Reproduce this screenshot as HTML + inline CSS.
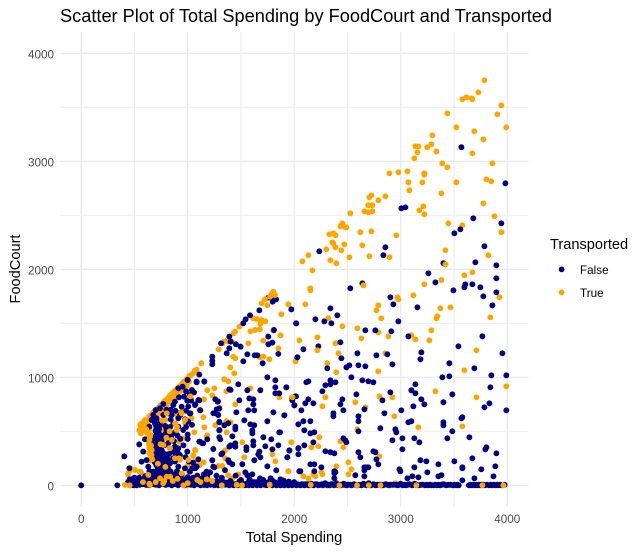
<!DOCTYPE html>
<html>
<head>
<meta charset="utf-8">
<style>
html,body{margin:0;padding:0;background:#fff;}
svg{display:block;}
text{font-family:"Liberation Sans",Arial,sans-serif;}
</style>
</head>
<body>
<svg id="chart" width="644" height="552" viewBox="0 0 644 552" xmlns="http://www.w3.org/2000/svg">
<rect x="0" y="0" width="644" height="552" fill="#ffffff"/>
<g id="grid"></g>
<g id="marks"></g>
<g id="xticks"></g>
<g id="yticks"></g>
<text x="60" y="22" font-size="18.2" fill="#000000">Scatter Plot of Total Spending by FoodCourt and Transported</text>
<text x="294" y="542" font-size="14.6" fill="#000000" text-anchor="middle">Total Spending</text>
<text transform="translate(20,269) rotate(-90)" font-size="14.6" fill="#000000" text-anchor="middle">FoodCourt</text>
<g>
<text x="550" y="249" font-size="14.6" fill="#000000">Transported</text>
<circle cx="561.6" cy="269.4" r="2.9" fill="#000080"/>
<text x="580" y="274" font-size="11.7" fill="#000000">False</text>
<circle cx="561.6" cy="292.4" r="2.9" fill="#FFA500"/>
<text x="580" y="297" font-size="11.7" fill="#000000">True</text>
</g>
</svg>
<script>
const xTickValues=[0,1000,2000,3000,4000];
const yTickValues=[0,1000,2000,3000,4000];
const xMinorValues=[500,1500,2500,3500];
const yMinorValues=[500,1500,2500,3500];

const truePoints=[[3786,3750],[3729,3639],[3579,3574],[3617,3592],[3664,3583],[3673,3574],[3945,3518],[3438,3444],[3908,3435],[3523,3315],[3992,3315],[3692,3278],[3297,3241],[3776,3204],[3288,3157],[3138,3139],[3166,3139],[3250,3130],[3157,3083],[3335,3092],[3673,3074],[3128,3028],[3391,2981],[3438,2944],[3861,2981],[2894,2889],[2978,2898],[3063,2907],[3222,2889],[3222,2876],[3072,2805],[3204,2805],[3523,2805],[3804,2833],[3851,2815],[3081,2731],[3382,2704],[2706,2667],[2725,2685],[2856,2676],[2790,2639],[2696,2593],[2734,2593],[3213,2583],[3776,2611],[2659,2537],[2696,2528],[2734,2537],[3175,2546],[3222,2509],[2527,2518],[3880,2491],[2452,2426],[2434,2398],[2480,2389],[2490,2389],[3448,2426],[3579,2407],[3945,2343],[2621,2343],[2725,2352],[2330,2324],[2368,2333],[2387,2315],[2959,2315],[2358,2250],[2368,2241],[2471,2231],[2640,2222],[2387,2204],[2302,2185],[2443,2176],[3420,2176],[2133,2130],[2518,2111],[2706,2120],[2894,2111],[3823,2130],[2077,2074],[2340,2083],[2396,2056],[3420,2046],[2171,1990],[3673,1972],[3598,1944],[3382,1901],
[2152,1824],[2152,1805],[2650,1852],[3222,1861],[2969,1741],[2978,1722],[3119,1759],[3927,1741],[1945,1676],[2105,1676],[2790,1666],[2772,1620],[3373,1639],[3467,1648],[1880,1583],[2321,1546],[2818,1546],[3344,1565],[3335,1546],[3842,1555],[2452,1472],[2593,1454],[2790,1416],[3100,1389],[3288,1435],[2884,1379],[3138,1352],[3269,1342],[2631,1361],[2218,1370],[1873,1389],[2049,1342],[2387,1315],[2218,1250],[3711,1250],[2415,1222],[2856,1222],[2011,1148],[2311,1130],[3598,1065],[2396,1046],[2790,1055],[3992,917],[3326,870],[1980,815],[2293,815],[2800,824],[2922,815],[3711,815],[2574,769],[2265,731],[2668,722],[2941,639],[3166,537],[3579,546],[2593,518],[2236,444],[1973,398],[2434,407],[2227,361],[2161,352],[2462,352],[2800,268],[2509,213],[2396,176],[2537,148],[1945,130],[2255,120],[2265,102],[2180,102],[2199,83],[2509,102],[2086,83],[2133,65],
[1694,1685],[1748,1667],[1945,1676],[1879,1583],[1616,1546],[1694,1531],[1729,1518],[1682,1494],[1650,1540],[1588,1426],[1632,1438],[1678,1444],[1804,1432],[1485,1469],[1444,1423],[1431,1407],[1870,1389],[1344,1333],[1381,1333],[1413,1333],[1291,1259],[1325,1315],[1569,1315],[1710,1340],[1851,1268],[1428,1191],[1447,1176],[1710,1191],[1679,1185],[1767,1167],[2014,1148],[1400,1092],[1438,1037],[1344,982],[1381,963],[1588,898],[1037,889],[1250,898],[1184,880],[1153,796],[1231,833],[1025,824],[1034,796],[1363,870],[1860,815],[1982,815],[1447,750],[1297,704],[1147,630],[1363,593],[1403,583],[1156,537],[1259,556],[1062,491],[1184,463],[1366,491],[959,435],[1513,398],[1973,398],[1072,324],[1353,324],[1053,277],[1353,250],[1532,259],[1795,287],[1823,222],[1150,213],[1109,185],[1062,213],[1288,179],[1325,179],[1945,130],[1172,123],[1381,93],[1419,65],[1475,102],[1128,1130],[1084,1071],
[640,640],[658,652],[672,668],[684,682],[700,692],[716,708],[731,722],[744,741],[762,752],[775,772],[788,783],[806,801],[822,812],[833,831],[851,843],[866,862],[879,873],[896,892],[912,903],[924,917],[941,932],[957,952],[968,963],[986,978],[1002,992],[1014,1012],[1031,1021],[1052,1038],[1068,1062],[722,660],[752,688],[778,732],[802,748],[828,772],[862,798],[881,822],[908,842],[942,878],[961,902],[988,922],[1012,958],[740,700],[790,745],[845,795],[900,860],[950,900],
[560,480],[575,500],[590,520],[604,542],[622,558],[555,562],[570,575],[590,570],[610,582],[632,590],[600,500],[620,510],[545,510],[640,520],[645,440],[650,410],[635,380],[640,350],[655,320],[645,290],[660,260],[650,230],[628,470],[636,415],[640,300],
[740,510],[755,540],[770,575],[790,605],[730,480],[760,495],[900,650],[925,670],[950,695],[975,575],[1005,600],[1037,620],[958,435],[920,404],[833,342],[770,250],[927,235],[1052,271],[1068,327],[1178,450],[440,100],[452,130],[460,160],[640,100],[735,60],[860,120],[1000,180],[950,70],[560,120],[700,210],[1010,130],
[450,0],[520,20],[610,0],[680,40],[745,15],[800,0],[860,30],[930,10],[1000,0],[1150,0],[1300,0],[1480,0],[1750,10],[1930,0],[2150,0],[2320,0],[2480,0],[2600,0],[2780,0],[2950,20],[3147,0],[3300,5],[3460,0],[3767,0],[3964,0]];

const falsePoints=[[3570,3130],[3983,2796],[3006,2565],[3044,2574],[3682,2472],[3945,2426],[3560,2370],[3504,2333],[2856,2204],[2236,2167],[2837,2130],[3786,2213],[3401,2056],[3701,2065],[3898,2037],[3260,1963],[3898,1917],
[2527,1824],[2640,1870],[3326,1879],[3495,1805],[3598,1833],[3607,1861],[3673,1861],[3748,1833],[3898,1787],[3776,1750],[2903,1741],[2931,1676],[3157,1648],[3861,1666],[1973,1629],[2340,1639],[2405,1574],[2199,1537],[2283,1518],[2349,1500],[2020,1500],[2978,1518],[2668,1435],[2762,1435],[2912,1426],[3072,1379],[3767,1379],[2434,1324],[3542,1287],[2227,1287],[2086,1259],[2593,1222],[2772,1204],[2875,1213],[3194,1231],[3955,1222],[2030,1185],[2443,1176],[3185,1167],[2922,1120],[3457,1130],[2490,1092],[2518,1111],[2603,1111],[2668,1102],[2311,1083],[3692,1083],[3851,1018],[3992,1018],[3391,1000],[3457,1009],[2537,1000],[2340,972],[2640,972],[2696,963],[2743,954],[2114,954],[2133,963],[2340,935],[2387,954],[2293,926],[1926,907],[3138,935],[3842,907],[3100,880],[3138,852],[2265,870],[2903,861],[2584,842],[3485,842],[2011,824],[2133,796],[2452,796],[3194,796],[2828,787],[2105,759],[2180,759],[2434,750],[2002,741],[3222,750],[3401,769],[3833,759],[3119,731],[3786,722],[2067,694],[2462,694],[2659,704],[3006,694],[3992,694],[1908,648],[2368,667],[2368,639],[2847,667],[2603,639],[3579,630],[3570,620],[2086,593],[2152,593],[2039,565],[2603,593],[3072,583],[3100,593],[3401,583],[3401,555],[2809,528],[2950,518],[2959,491],[2095,509],[2189,491],[2152,481],[2603,500],[3485,500],[1867,491],[3645,444],[3016,435],[3128,435],[2462,435],[2480,417],[2490,398],[2922,417],[3438,435],[3175,398],[2180,398],[2095,370],[2039,343],[3016,333],[1955,324],[3805,352],[3795,333],[2293,315],[2340,306],[2377,296],[2603,306],[2743,315],[2762,306],[3898,296],[2039,287],[1936,259],[2621,259],[3673,250],[2772,240],[3185,232],[3241,222],[3504,222],[2152,194],[2189,194],[2790,194],[3354,194],[2659,167],[2696,167],[2678,167],[2659,139],[2255,167],[3128,167],[3579,167],[3579,157],[3889,176],[3757,148],[2988,148],[2997,130],[2058,130],[2189,130],[3250,120],[2377,130],[2387,120],[2377,111],[2574,93],[3382,93],[3354,83],[3110,83],[3871,83],[3063,65],[3692,65],[2659,83],[3166,74],[3579,46],[2377,65],
[1804,1716],[1830,1722],[1757,1737],[1798,1700],[1585,1574],[1673,1620],[2017,1500],[1544,1537],[1522,1500],[1810,1438],[1391,1377],[1757,1377],[1313,1315],[1403,1330],[1497,1284],[1453,1306],[1757,1306],[1795,1321],[1391,1268],[1366,1222],[1560,1213],[1629,1204],[1654,1204],[1851,1216],[1522,1148],[1704,1130],[2029,1185],[1231,1191],[1231,1151],[1231,1120],[1109,1025],[1748,1000],[1084,954],[1156,963],[1823,972],[1475,935],[1926,907],[1823,907],[1391,889],[1403,883],[1560,880],[1682,880],[1823,852],[1860,852],[2017,824],[1982,806],[1072,750],[1109,787],[1259,796],[1485,787],[1579,805],[1616,796],[1616,750],[1285,778],[1982,787],[2001,741],[1119,694],[1272,704],[1259,667],[1241,667],[1569,694],[1625,694],[1457,676],[1804,676],[1907,648],[1025,667],[1532,602],[1748,593],[1297,583],[1344,556],[1588,565],[1625,556],[1447,543],[1447,519],[2039,565],[1297,509],[1860,491],[1607,509],[1607,481],[1419,454],[1297,445],[1306,426],[1710,445],[1785,426],[1109,404],[1137,389],[1616,407],[1447,389],[1403,370],[1391,358],[1447,358],[1551,352],[1551,327],[1616,370],[1729,361],[1851,370],[2039,343],[1795,333],[1325,296],[1316,287],[1231,232],[1673,312],[1663,287],[1682,259],[1954,321],[1935,259],[1625,232],[1381,232],[1391,213],[1513,195],[1748,176],[1419,195],[1832,139],[1250,167],[1072,158],[1043,158],[1184,93],[1184,65],[1541,120],[1560,93],[1607,102],[2048,130],[1779,65],[1679,65],[1710,50],
[0,0],[339,0],[405,268],[452,157],[545,379],[599,426],[639,543],[677,651],[771,753],[699,697],[739,713],[661,605],[818,666],[865,743],[912,898],[952,913],[999,975],[965,821],[1021,836],[1031,784],[996,784],[918,815],[880,774],[943,728],[1021,666],[974,611],[1005,589],[849,651],[912,620],[865,574],[771,651],[708,620],[739,558],[912,543],[958,512],[865,481],[818,466],[739,466],[693,450],[677,389],[786,373],[912,342],[896,296],[927,281],[996,312],[724,342],[739,296],[693,250],[786,234],[833,204],[865,250],[583,312],[567,219],[614,234],[630,173],[552,126],[724,173],[677,126],[771,157],[912,173],[974,157],[1021,126],[1084,173],[1178,126],[1240,173],[1100,790],[1068,743],[1115,697],[1281,774],[1297,713],[1287,651],[1297,589],[1297,512],[1381,574],[1115,404],[1146,389],[1184,426],[1240,336],[1084,960],[1156,960],
[690,600],[700,560],[712,520],[725,490],[745,430],[700,410],[715,380],[755,405],[770,440],[700,340],[685,300],[710,270],[755,330],[770,300],[700,205],[740,225],[760,200],[715,140],[690,90],[745,110],[790,120],[815,160],[800,285],[825,290],[850,310],[880,360],[870,410],[905,460],[930,430],[890,500],[835,540],[800,520],[840,610],[800,700],[840,700],[885,690],[930,650],[985,690],[1005,730],[985,870],[1040,880],[1060,860],[985,540],[1000,470],[1000,430],[1040,560],[960,370],[880,220],[900,130],[860,100],[830,90],[790,70],[980,260],[1010,220],[1050,210],[1100,240],[1090,90],[1150,100],[1210,120],[1270,90],[640,130],[600,85],[500,70],[540,60],[585,50],[625,70],[660,60],[480,40],[760,90],[945,105],[1000,75],[1050,70],[1130,60],[1180,40],[1350,140],[1320,70],[1450,90],[1500,50],[1400,40],[1620,30],[1580,55],[1650,30],[1700,35],[1800,40],[1870,55],[1900,45],[1950,35],[2000,30],
[692,575],[705,535],[698,505],[710,470],[690,430],[706,395],[720,360],[692,320],[705,290],[720,240],[690,215],[706,185],[725,150],[695,120],[712,100],[735,75],[760,55],[780,100],[800,135],[820,110],[805,170],[770,190],[752,150],[835,130],[850,70],[875,65],[895,90],[925,75],[770,260],[790,215],[815,240],[745,265],[880,320],[895,270],[905,305],[885,295],[910,265],[725,415],[745,385],[730,520],[745,585],[790,550],[815,500],[790,475],[845,445],[820,395],
[440,30],[455,55],[470,20],[485,60],[500,30],[515,45],[530,15],[545,70],[560,35],[575,55],[590,20],[605,60],[620,35],[635,55],[650,25],[665,80],[680,20],[695,60],[710,40],[725,85],[740,30],[755,65],[770,35],[785,75],[800,25],[815,60],[830,30],[845,65],[860,15],[875,50],[890,25],[905,55],[920,30],[935,60],[950,25],[965,55],[980,30],[995,60],[1010,20],[1025,50],[1040,20],[1055,45],[1070,15],[1085,35],[1100,25],[1115,40],[1130,15],[1145,35],[1160,10],[1175,30],[1190,15],[1205,25],[1220,10],[1240,30],[1260,15],[1275,40],[1295,10],[1310,20],[1330,15],[1350,10],[1370,25],[1400,10],[1420,15],[1455,10],[1475,20],[1510,15],[1530,10],[1550,5],[1570,25],[1600,10],[1640,15],[1675,10],[1695,20],[1730,10],[1750,25],[1785,15],[1805,10],[1825,25],[1860,15],[1895,10],[1915,15],[1935,10],[1970,10],[1990,15],[2010,10],[2030,10],[2050,5],[2070,10],[2105,10],[2125,10],[2148,5],[2170,10],[2190,5],[2212,10],[2238,5],[2260,10],[2280,5],[2300,10],[2322,5],[2345,10],[2365,5],[2385,10],[2405,5],[2428,5],[2452,5],[2478,5],[2500,5],[2525,5],[2550,5],[2575,5],[2610,5],[2640,5],[2665,5],[2690,5],[2710,5],[2733,5],[2755,5],[2780,5],[2815,5],[2845,5],[2875,5],[2905,5],[2935,5],[2955,5],[2985,5],[3035,5],[3065,5],[3095,5],[3150,5],[3210,5],[3245,5],[3275,5],[3325,5],[3355,5],[3385,5],[3415,5],[3445,5],[3470,5],[3505,5],[3532,5],[3655,5],[3685,5],[3712,5],[3735,5],[3760,5],[3775,5],[3810,5],[3845,5],[3875,5],[3905,5],[3935,5],[3975,5],
[460,0],[475,15],[490,0],[505,25],[520,0],[535,30],[550,5],[565,35],[580,10],[595,25],[610,5],[625,40],[640,0],[655,30],[670,10],[685,45],[700,5],[715,35],[730,0],[745,50],[760,15],[775,40],[790,5],[805,35],[820,10],[835,45],[850,0],[865,25],[880,10],[895,40],[910,0],[925,30],[940,15],[955,40],[970,0],[985,30],[1000,10],[1015,35],[1030,5],[1045,25],[1060,0],[1075,30],[1090,10],[1105,20],[1120,0],[1135,25],[1150,5],[1165,20],[1180,0],[1195,30],[1215,5],[1230,20],[1250,0],[1265,25],[1285,0],[1300,15],[1320,0],[1340,30],[1355,5],[1375,15],[1390,0],[1410,20],[1430,0],[1445,10],[1465,0],[1485,35],[1500,5],[1520,15],[1540,0],[1560,20],[1575,0],[1595,25],[1610,0],[1630,20],[1650,0],[1665,15],[1685,0],[1705,25],[1720,5],[1740,0],[1760,30],[1775,10],[1795,0],[1815,20],[1835,0],[1850,10],[1870,0],[1885,15],[1905,0],[1925,10],[1945,0],[1960,15],[1980,0],[2000,10],[2020,0],[2040,5],[2060,0],[2080,10],[2095,0],[2115,5],[2135,0],[2160,15],[2180,0],[2200,10],[2225,0],[2250,5],[2270,0],[2290,20],[2310,0],[2335,0],[2355,10],[2375,0],[2395,20],[2415,0],[2440,0],[2465,15],[2490,0],[2510,5],[2540,0],[2560,10],[2590,0],[2630,0],[2650,15],[2680,0],[2700,20],[2720,0],[2745,10],[2765,0],[2800,5],[2830,0],[2860,10],[2890,0],[2920,5],[2970,0],[3000,15],[3020,0],[3050,0],[3080,10],[3110,0],[3130,15],[3170,0],[3190,5],[3230,0],[3260,0],[3290,0],[3310,0],[3340,0],[3370,0],[3400,10],[3430,0],[3490,0],[3520,0],[3545,0],[3640,0],[3670,0],[3700,0],[3725,0],[3745,0],[3790,0],[3830,0],[3860,0],[3890,0],[3920,0],[3950,0]];

const trueOverPoints=[[3420,2046],[2650,1852],[2218,1250],[1025,824],[1984,815],[3222,2889],[900,540],[830,500],[760,600],[800,440],[745,380],[850,420],[920,250],[720,200],[790,170],[835,80],[905,60],[700,30],[1000,20],[455,0],[960,0],[1120,30],[1230,40],[640,15],[580,30],[780,40],[860,40],[1090,50],[1180,55],[770,20],[650,470],[640,420],[655,370],[648,330],[660,280],[668,240],[560,530],[585,545],[610,520],[3147,0],[3767,0],[3964,0],[1510,0],[1770,5],[2155,5],[2590,0],[2700,0],[2810,0],[2425,0],[1320,0],[1460,5],
[1804,1793],[1788,1771],[1819,1762],[1773,1747],[1726,1722],
[771,374],[834,343],[897,512],[975,605],[599,605],[568,543],[646,451],[662,327],[803,667],[881,574],[943,667],[552,127],[505,142],[630,96],[803,80],[740,65],[944,111],[646,3],[411,3],[881,250],[1006,235]];
</script>
<script>
const svgNS="http://www.w3.org/2000/svg";
const xScale=v=>81.2+v*0.1065;
const yScale=v=>485.3-v*0.108;
const panelLeft=60,panelRight=528.5,panelTop=31.7,panelBottom=507;
const grid=document.getElementById('grid');
const marks=document.getElementById('marks');
const xticks=document.getElementById('xticks');
const yticks=document.getElementById('yticks');

function gridLine(x1,y1,x2,y2,width){
  const l=document.createElementNS(svgNS,'line');
  
  
  l.setAttribute('x1',x1);l.setAttribute('y1',y1);l.setAttribute('x2',x2);l.setAttribute('y2',y2);
  l.setAttribute('stroke','#ebebeb');l.setAttribute('stroke-width',width);
  grid.appendChild(l);
}
xMinorValues.forEach(v=>gridLine(xScale(v),panelTop,xScale(v),panelBottom,1));
yMinorValues.forEach(v=>gridLine(panelLeft,yScale(v),panelRight,yScale(v),1));
xTickValues.forEach(v=>gridLine(xScale(v),panelTop,xScale(v),panelBottom,1.4));
yTickValues.forEach(v=>gridLine(panelLeft,yScale(v),panelRight,yScale(v),1.4));

function drawPoints(points,color){
  points.forEach(p=>{
    const c=document.createElementNS(svgNS,'circle');
    
    
    c.setAttribute('cx',xScale(p[0]));
    c.setAttribute('cy',yScale(p[1]));
    c.setAttribute('r',2.95);
    c.setAttribute('fill',color);
    marks.appendChild(c);
  });
}
drawPoints(truePoints,'#FFA500');
drawPoints(falsePoints,'#000080');
drawPoints(trueOverPoints,'#FFA500');

xTickValues.forEach(v=>{
  const t=document.createElementNS(svgNS,'text');
  
  
  t.setAttribute('x',xScale(v));
  t.setAttribute('y',523);
  t.setAttribute('text-anchor','middle');
  t.setAttribute('font-size','11.7');
  t.setAttribute('fill','#4d4d4d');
  t.textContent=v;
  xticks.appendChild(t);
});
yTickValues.forEach(v=>{
  const t=document.createElementNS(svgNS,'text');
  
  
  t.setAttribute('x',54);
  t.setAttribute('y',yScale(v)+5);
  t.setAttribute('text-anchor','end');
  t.setAttribute('font-size','11.7');
  t.setAttribute('fill','#4d4d4d');
  t.textContent=v;
  yticks.appendChild(t);
});
</script>
</body>
</html>
